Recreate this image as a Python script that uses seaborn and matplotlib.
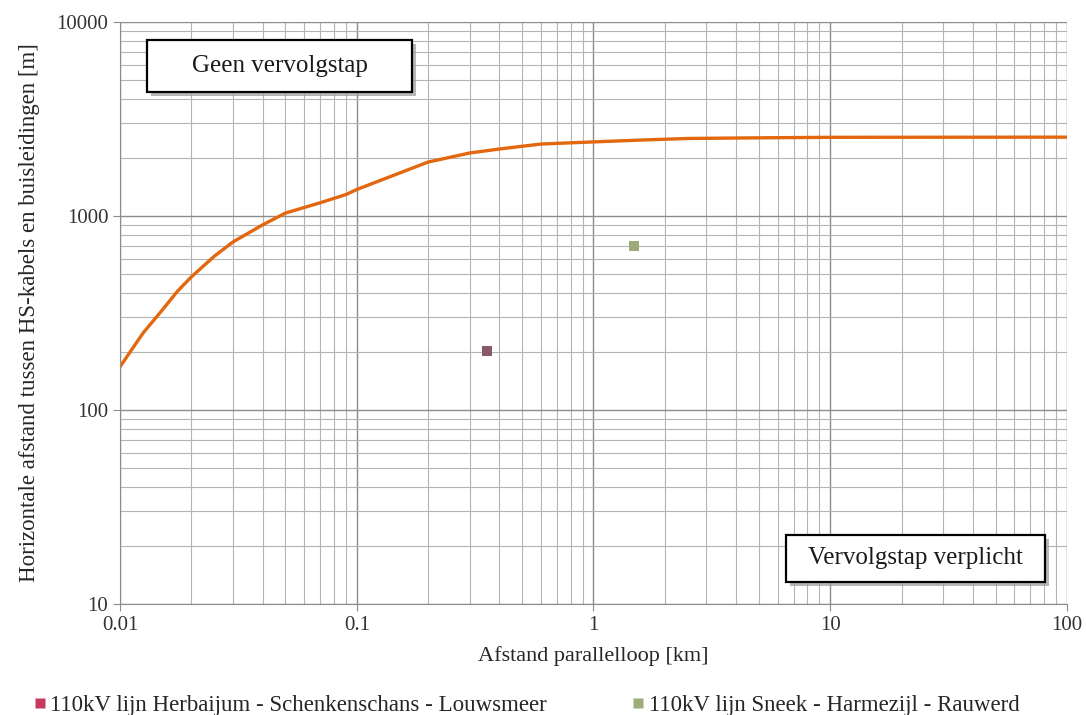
import numpy as np
import pandas as pd
import matplotlib
matplotlib.use("Agg")
import matplotlib.pyplot as plt
import matplotlib.patheffects as pe
from matplotlib.patches import Rectangle
from matplotlib.lines import Line2D
import seaborn as sns

# Grenscurve (afstand parallelloop [km] vs horizontale afstand [m])
curve_km = [0.01, 0.0125, 0.015, 0.0175, 0.02, 0.025, 0.03, 0.04, 0.05, 0.07, 0.09, 0.1, 0.2, 0.3, 0.4, 0.6, 1, 1.6, 2.5, 5, 10, 100]
curve_m = [167, 249, 325, 410, 485, 620, 735, 900, 1036, 1170, 1290, 1370, 1897, 2113, 2215, 2350, 2410, 2465, 2510, 2530, 2545, 2550]

# Tracés
line_names = ["110kV lijn Herbaijum - Schenkenschans - Louwsmeer",
              "110kV lijn Sneek - Harmezijl - Rauwerd"]
line_km = [0.355, 1.48]
line_m = [201, 700]
marker_colors = ["#8a5a6c", "#9dab7a"]
legend_colors = ["#c8385e", "#9dae7b"]

curve = pd.DataFrame({"km": curve_km, "m": curve_m})
points = pd.DataFrame({"km": line_km, "m": line_m, "naam": line_names})

sns.set_style("white")
plt.rcParams["font.family"] = ["Liberation Serif", "DejaVu Serif"]

fig = plt.figure(figsize=(10.86, 7.15), dpi=100)
ax = fig.add_axes([0.1105, 0.1552, 0.872, 0.814])

sns.lineplot(data=curve, x="km", y="m", color="#e3670e", linewidth=2.4, ax=ax)
sns.scatterplot(data=points, x="km", y="m", hue="naam", palette=marker_colors,
                marker="s", s=50, edgecolor="none", legend=False, ax=ax, zorder=5)

ax.set_xscale("log")
ax.set_yscale("log")
ax.set_xlim(0.01, 100)
ax.set_ylim(10, 10000)

ax.set_xticks([0.01, 0.1, 1, 10, 100])
ax.set_xticklabels(["0.01", "0.1", "1", "10", "100"])
ax.set_yticks([10, 100, 1000, 10000])
ax.set_yticklabels(["10", "100", "1000", "10000"])

ax.grid(True, which="major", color="#8c8c8c", linewidth=1.0)
ax.grid(True, which="minor", color="#b4b4b4", linewidth=0.8)
ax.set_axisbelow(True)
ax.tick_params(which="major", length=5, color="#8c8c8c", labelsize=15, direction="out",
               left=True, bottom=True, labelcolor="#333333")
ax.tick_params(which="minor", length=0)
for side in ["top", "right"]:
    ax.spines[side].set_visible(False)
for side in ["left", "bottom"]:
    ax.spines[side].set_color("#8c8c8c")

ax.set_xlabel("Afstand parallelloop [km]", fontsize=16, labelpad=8)
ax.set_ylabel("Horizontale afstand tussen HS-kabels en buisleidingen [m]", fontsize=16.5, labelpad=12)

shadow = [pe.withSimplePatchShadow(offset=(3, -3), shadow_rgbFace="#999999", alpha=0.7)]
boxes = [("Geen vervolgstap", 0.0285, 0.880, 0.280, 0.089),
         ("Vervolgstap verplicht", 0.703, 0.038, 0.274, 0.081)]
for txt, x0, y0, w, h in boxes:
    r = Rectangle((x0, y0), w, h, transform=ax.transAxes, fc="white", ec="black",
                  lw=1.6, zorder=9)
    r.set_path_effects(shadow)
    ax.add_patch(r)
    ax.text(x0 + w / 2, y0 + h / 2, txt, transform=ax.transAxes, fontsize=18,
            ha="center", va="center", zorder=10, color="#1a1a1a")

handles = [Line2D([], [], marker="s", linestyle="none", markersize=6.5,
                  markerfacecolor=c, markeredgecolor="none") for c in legend_colors]
fig.legend(handles, line_names, loc="lower left", bbox_to_anchor=(0.009, -0.03),
           ncol=2, frameon=False, fontsize=16.5, handletextpad=0.05, columnspacing=3.6,
           handlelength=0.8)

fig.savefig("out.png", dpi=100)
